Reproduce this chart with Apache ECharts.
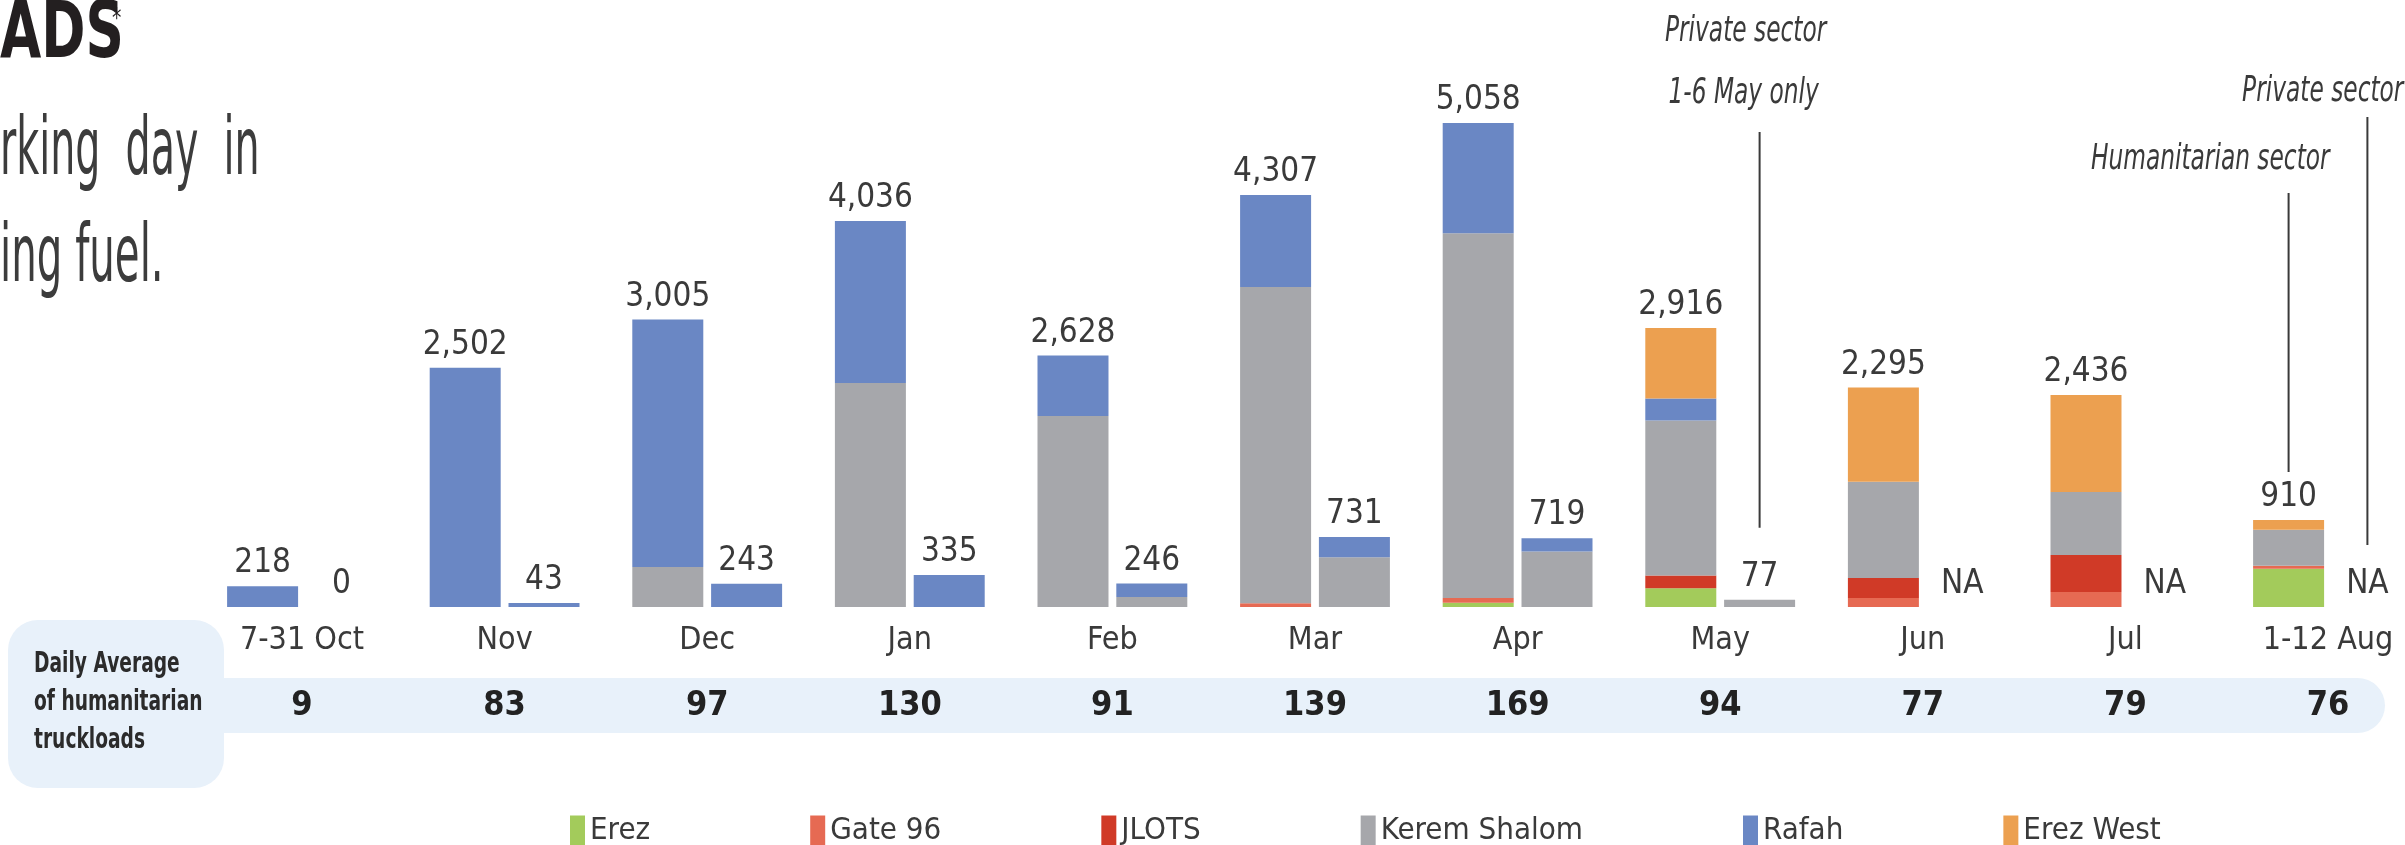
<!DOCTYPE html>
<html>
<head>
<meta charset="utf-8">
<title>Humanitarian truckloads</title>
<script src="https://cdn.jsdelivr.net/npm/echarts@6.0.0/dist/echarts.min.js"></script>
<style>
  html, body { margin: 0; padding: 0; background: #fff; }
  #chart { width: 2405px; height: 845px; }
</style>
</head>
<body>
<div id="chart"></div>
<script>
// data
const categories = ['7-31 Oct', 'Nov', 'Dec', 'Jan', 'Feb', 'Mar', 'Apr', 'May', 'Jun', 'Jul', '1-12 Aug']

// humanitarian sector, per crossing
const erezHum = [0, 0, 0, 0, 0, 0, 45, 195, 0, 0, 399]
const gate96Hum = [0, 0, 0, 0, 0, 40, 50, 0, 94, 157, 31]
const jlotsHum = [0, 0, 0, 0, 0, 0, 0, 135, 210, 387, 0]
const keremHum = [0, 0, 418, 2341, 1996, 3304, 3813, 1620, 1006, 658, 378]
const rafahHum = [218, 2502, 2587, 1695, 632, 963, 1150, 230, 0, 0, 0]
const erezWestHum = [0, 0, 0, 0, 0, 0, 0, 736, 985, 1014, 102]
const humTotals = [218, 2502, 3005, 4036, 2628, 4307, 5058, 2916, 2295, 2436, 910]

// private sector (null = NA)
const keremPriv = [0, 0, 0, 0, 105, 520, 580, 77, null, null, null]
const rafahPriv = [0, 43, 243, 335, 141, 211, 139, 0, null, null, null]
const privTotals = [0, 43, 243, 335, 246, 731, 719, 77, null, null, null]

const dailyAvg = [9, 83, 97, 130, 91, 139, 169, 94, 77, 79, 76]

const FONT = '"Liberation Sans Narrow", "DejaVu Sans Condensed", "Roboto", sans-serif'
const TEXT = '#3a3a3a'
const BAR_W = 71
const BAR_GAP = 0.11
const colors = {
  erez: '#a3cb5b',
  gate96: '#e66a53',
  jlots: '#d03a27',
  kerem: '#a6a7ab',
  rafah: '#6a87c4',
  erezWest: '#eca050'
}

const fmt = v => v.toLocaleString('en-US')

const barSeries = (name, data, stack, color) => ({
  name,
  type: 'bar',
  stack,
  data,
  barWidth: BAR_W,
  barGap: (BAR_GAP * 100) + '%',
  clip: false,
  silent: true,
  itemStyle: { color }
})

const totalSeries = (stack, formatter) => ({
  name: stack + 'Total',
  type: 'bar',
  stack,
  data: categories.map(() => 0),
  barWidth: BAR_W,
  barGap: (BAR_GAP * 100) + '%',
  clip: false,
  silent: true,
  label: {
    show: true,
    position: 'top',
    distance: 6,
    formatter,
    fontFamily: FONT,
    fontSize: 33,
    color: TEXT
  }
})

const chart = echarts.init(document.getElementById('chart'))

chart.setOption({
  animation: false,
  backgroundColor: '#fff',
  grid: {
    left: 302,
    right: 77,
    top: 33,
    bottom: 238,
    outerBoundsMode: 'none'
  },
  legend: {
    data: ['Erez', 'Gate 96', 'JLOTS', 'Kerem Shalom', 'Rafah', 'Erez West'],
    left: 565,
    top: 810,
    icon: 'rect',
    itemWidth: 15,
    itemHeight: 30,
    itemGap: 160,
    selectedMode: false,
    textStyle: { fontFamily: FONT, fontSize: 31, color: TEXT }
  },
  xAxis: [
    {
      type: 'category',
      data: categories,
      boundaryGap: false,
      axisLine: { show: false },
      axisTick: { show: false },
      axisLabel: { interval: 0, margin: 18, fontFamily: FONT, fontSize: 32, color: TEXT }
    },
    {
      type: 'category',
      data: categories,
      position: 'bottom',
      boundaryGap: false,
      axisLine: { show: false },
      axisTick: { show: false },
      axisLabel: {
        interval: 0,
        margin: 82,
        formatter: (v, i) => String(dailyAvg[i]),
        fontFamily: FONT,
        fontSize: 34,
        fontWeight: 'bold',
        color: '#222'
      }
    }
  ],
  yAxis: {
    type: 'value',
    min: 0,
    max: 6000,
    show: false
  },
  series: [
    barSeries('Erez', erezHum, 'hum', colors.erez),
    barSeries('Gate 96', gate96Hum, 'hum', colors.gate96),
    barSeries('JLOTS', jlotsHum, 'hum', colors.jlots),
    barSeries('Kerem Shalom', keremHum, 'hum', colors.kerem),
    barSeries('Rafah', rafahHum, 'hum', colors.rafah),
    barSeries('Erez West', erezWestHum, 'hum', colors.erezWest),
    totalSeries('hum', p => fmt(humTotals[p.dataIndex])),
    barSeries('Kerem Shalom', keremPriv, 'priv', colors.kerem),
    barSeries('Rafah', rafahPriv, 'priv', colors.rafah),
    totalSeries('priv', p => privTotals[p.dataIndex] == null ? 'NA' : fmt(privTotals[p.dataIndex]))
  ]
})

// annotations, placed from the axes
const cx = i => chart.convertToPixel({ xAxisIndex: 0 }, i)
const cy = v => chart.convertToPixel({ yAxisIndex: 0 }, v)
const off = BAR_W * (1 + BAR_GAP) / 2
const mayPrivX = cx(7) + off
const augHumX = cx(10) - off
const augPrivX = cx(10) + off

const txt = (text, x, y, extra) => ({
  type: 'text',
  x,
  y,
  scaleX: 0.74,
  z: 10,
  style: Object.assign({
    text,
    fontFamily: FONT,
    fontSize: 35,
    fontStyle: 'italic',
    fill: TEXT,
    align: 'center',
    textAlign: 'center',
    verticalAlign: 'middle',
    textVerticalAlign: 'middle'
  }, extra)
})

const vline = (x, y1, y2) => ({
  type: 'line',
  z: 10,
  shape: { x1: x, y1, x2: x, y2 },
  style: { stroke: TEXT, lineWidth: 2 }
})

chart.setOption({
  graphic: [
    // daily average band and box
    { type: 'rect', z: 0, shape: { x: 150, y: 678, width: 2235, height: 55, r: [0, 28, 28, 0] }, style: { fill: '#e8f1fa' } },
    { type: 'rect', z: 0, shape: { x: 8, y: 620, width: 216, height: 168, r: 30 }, style: { fill: '#e8f1fa' } },
    {
      type: 'text', x: 34, y: 646, scaleX: 0.74, z: 10,
      style: {
        text: 'Daily Average\nof humanitarian\ntruckloads',
        fontFamily: FONT, fontSize: 28, fontWeight: 'bold', fill: '#2b2b2b',
        lineHeight: 38, verticalAlign: 'top', textVerticalAlign: 'top'
      }
    },
    // heading fragments at the left edge
    {
      type: 'text', x: 0, y: 37, scaleX: 0.76, z: 10,
      style: { text: 'ADS', fontFamily: FONT, fontSize: 78, fontWeight: 'bold', fill: '#231f20', verticalAlign: 'middle', textVerticalAlign: 'middle' }
    },
    {
      type: 'text', x: 112, y: 20, scaleX: 0.8, z: 10,
      style: { text: '*', fontFamily: FONT, fontSize: 26, fill: '#231f20', verticalAlign: 'middle', textVerticalAlign: 'middle' }
    },
    {
      type: 'text', x: 0, y: 153, scaleX: 0.55, z: 10,
      style: { text: 'rking  day  in', fontFamily: FONT, fontSize: 80, fill: '#3c3c3c', verticalAlign: 'middle', textVerticalAlign: 'middle' }
    },
    {
      type: 'text', x: 0, y: 260, scaleX: 0.56, z: 10,
      style: { text: 'ing fuel.', fontFamily: FONT, fontSize: 80, fill: '#3c3c3c', verticalAlign: 'middle', textVerticalAlign: 'middle' }
    },
    // sector call-outs
    txt('Private sector', mayPrivX - 14, 32),
    txt('1-6 May only', mayPrivX - 16, 94),
    vline(mayPrivX, 132, cy(privTotals[7]) - 72),
    txt('Private sector', augPrivX + 36, 92, { align: 'right', textAlign: 'right' }),
    vline(augPrivX, 117, cy(0) - 62),
    txt('Humanitarian sector', augHumX + 41, 160, { align: 'right', textAlign: 'right' }),
    vline(augHumX, 193, cy(humTotals[10]) - 48)
  ]
})

window.addEventListener('resize', () => chart.resize())
</script>
</body>
</html>
